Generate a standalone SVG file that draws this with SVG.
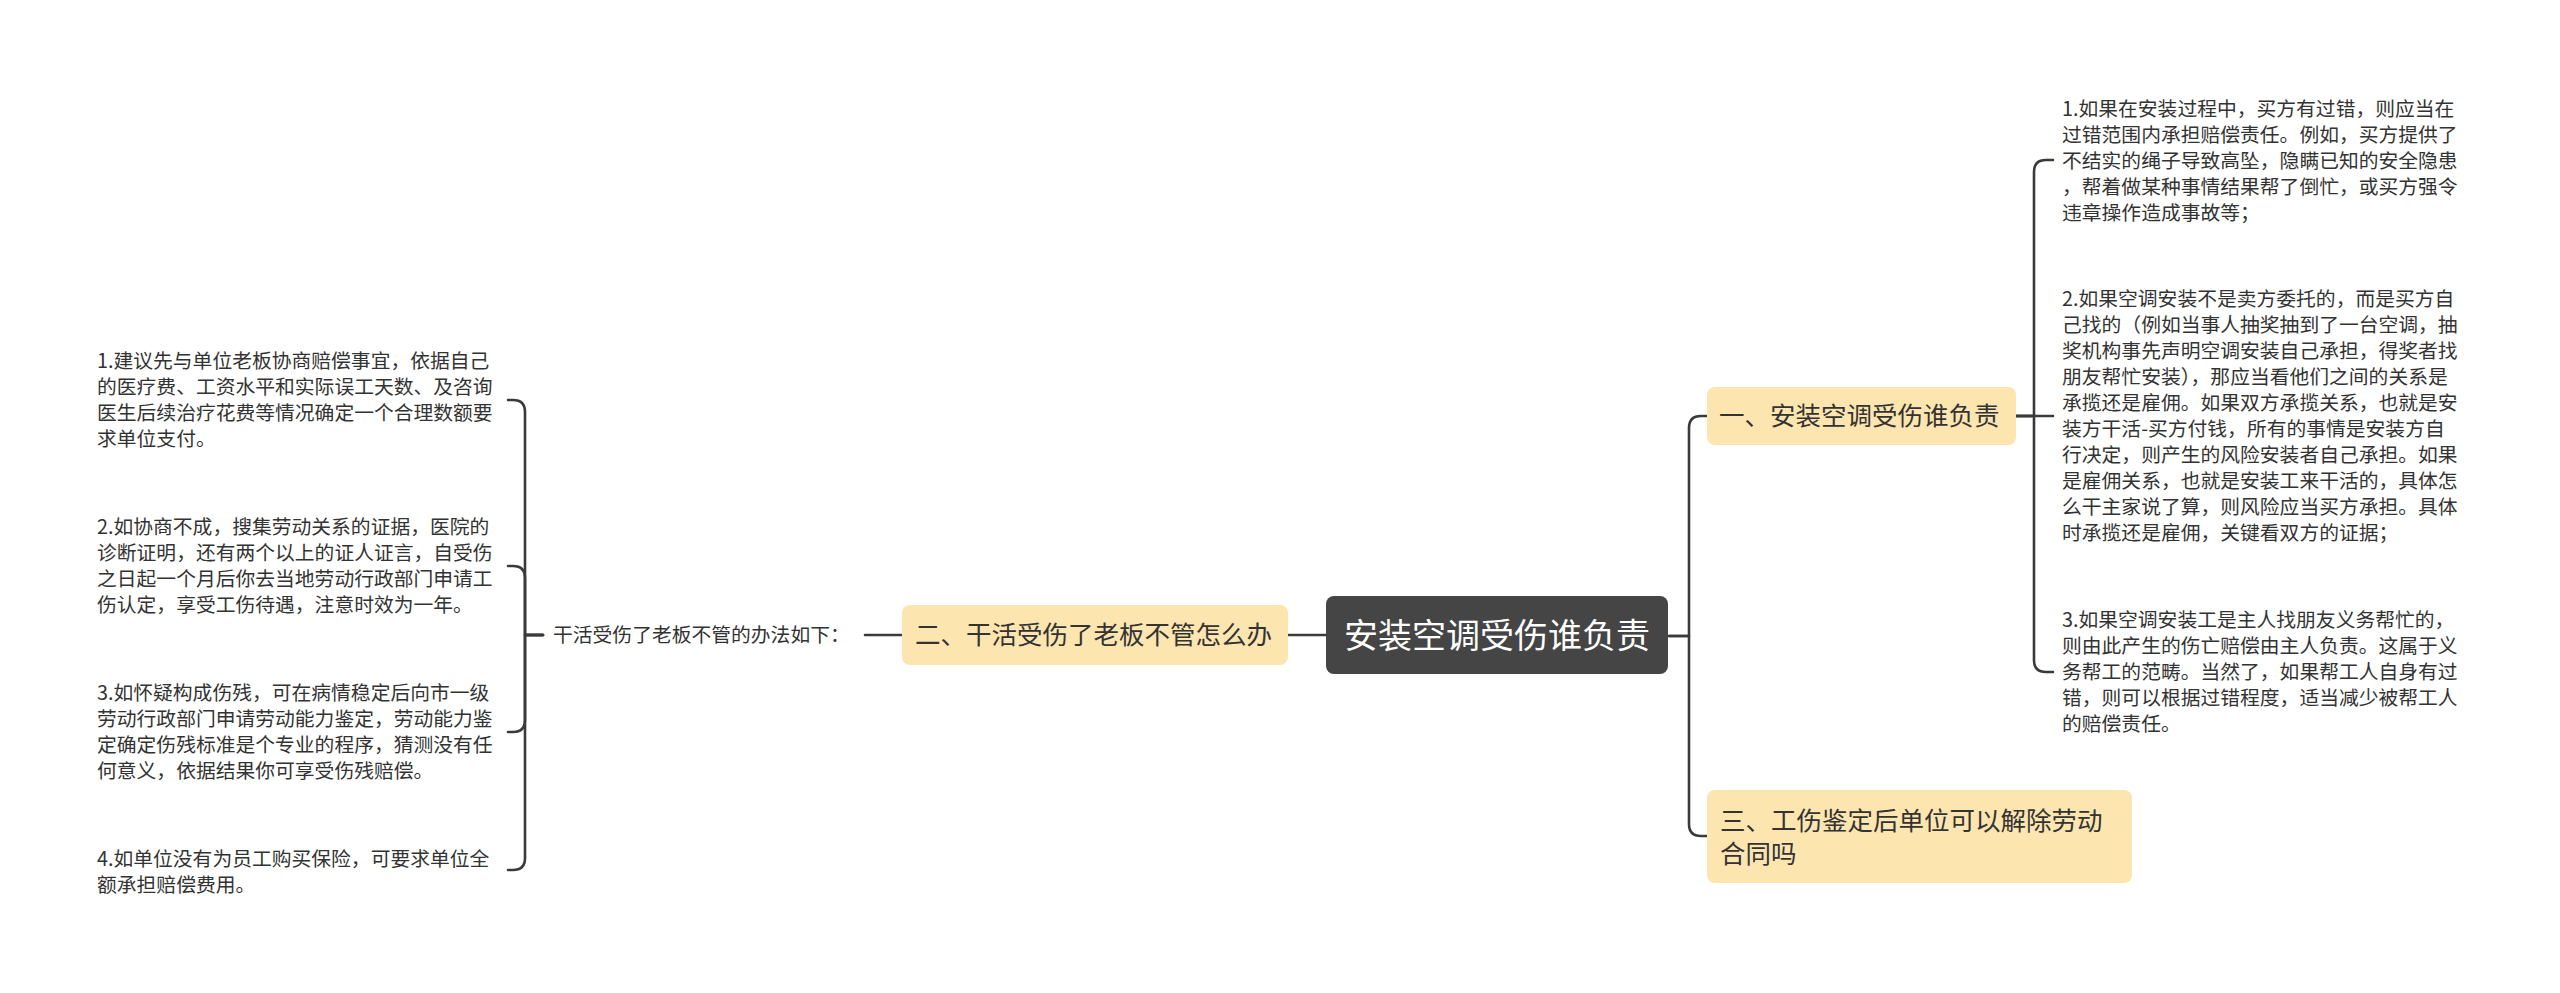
<svg xmlns="http://www.w3.org/2000/svg" width="2560" height="993" viewBox="0 0 2560 993">
<style>
.bg{fill:#ffffff}
.conn{fill:none;stroke:#3a3a3a;stroke-width:2.6;stroke-linecap:round;stroke-linejoin:round}
.root{fill:#454545}
.main{fill:#fde5b0}
.t{font-family:"Noto Sans CJK SC","Noto Sans",sans-serif;fill:#333333}
.rt{font-family:"Noto Sans CJK SC","Noto Sans",sans-serif;fill:#ffffff;font-size:34px}
.mt{font-size:25.5px}
.bt{font-size:19.8px}
</style>
<rect class="bg" x="0" y="0" width="2560" height="993"/>
<g id="connectors">
  <path class="conn" d="M1669,636 H1689 V428 Q1689,416 1701,416 H1707"/>
  <path class="conn" d="M1669,636 H1689 V824 Q1689,836 1701,836 H1707"/>
  <path class="conn" d="M1326,635 H1288"/>
  <path class="conn" d="M902,635 H865"/>
  <path class="conn" d="M2016,416 H2034 V172 Q2034,160 2046,160 H2053"/>
  <path class="conn" d="M2016,416 H2053"/>
  <path class="conn" d="M2016,416 H2034 V660 Q2034,672 2046,672 H2053"/>
  <path class="conn" d="M543,635 H525 V412 Q525,400 513,400 H508"/>
  <path class="conn" d="M543,635 H525 V578 Q525,566 513,566 H508"/>
  <path class="conn" d="M543,635 H525 V720 Q525,732 513,732 H508"/>
  <path class="conn" d="M543,635 H525 V858 Q525,870 513,870 H508"/>
</g>
<g id="root">
  <rect class="root" x="1326" y="596" width="342" height="78" rx="8"/>
  <text class="rt" x="1497" y="648" text-anchor="middle">安装空调受伤谁负责</text>
</g>
<g id="n1">
  <rect class="main" x="1707" y="387" width="309" height="58" rx="8"/>
  <text class="t mt" x="1719" y="425">一、安装空调受伤谁负责</text>
</g>
<g id="n2">
  <rect class="main" x="902" y="605" width="386" height="60" rx="8"/>
  <text class="t mt" x="915" y="644">二、干活受伤了老板不管怎么办</text>
</g>
<g id="n3">
  <rect class="main" x="1707" y="790" width="425" height="93" rx="8"/>
  <text class="t mt" x="1720" y="830">三、工伤鉴定后单位可以解除劳动</text>
  <text class="t mt" x="1720" y="863">合同吗</text>
</g>
<g id="n2-label">
  <text class="t bt" x="553" y="642">干活受伤了老板不管的办法如下：</text>
</g>
<g id="r1">
  <text class="t bt" x="2062" y="116">1.如果在安装过程中，买方有过错，则应当在</text>
  <text class="t bt" x="2062" y="142">过错范围内承担赔偿责任。例如，买方提供了</text>
  <text class="t bt" x="2062" y="168">不结实的绳子导致高坠，隐瞒已知的安全隐患</text>
  <text class="t bt" x="2062" y="194">，帮着做某种事情结果帮了倒忙，或买方强令</text>
  <text class="t bt" x="2062" y="220">违章操作造成事故等；</text>
</g>
<g id="r2">
  <text class="t bt" x="2062" y="306">2.如果空调安装不是卖方委托的，而是买方自</text>
  <text class="t bt" x="2062" y="332">己找的（例如当事人抽奖抽到了一台空调，抽</text>
  <text class="t bt" x="2062" y="358">奖机构事先声明空调安装自己承担，得奖者找</text>
  <text class="t bt" x="2062" y="384">朋友帮忙安装），那应当看他们之间的关系是</text>
  <text class="t bt" x="2062" y="410">承揽还是雇佣。如果双方承揽关系，也就是安</text>
  <text class="t bt" x="2062" y="436">装方干活-买方付钱，所有的事情是安装方自</text>
  <text class="t bt" x="2062" y="462">行决定，则产生的风险安装者自己承担。如果</text>
  <text class="t bt" x="2062" y="488">是雇佣关系，也就是安装工来干活的，具体怎</text>
  <text class="t bt" x="2062" y="514">么干主家说了算，则风险应当买方承担。具体</text>
  <text class="t bt" x="2062" y="540">时承揽还是雇佣，关键看双方的证据；</text>
</g>
<g id="r3">
  <text class="t bt" x="2062" y="627">3.如果空调安装工是主人找朋友义务帮忙的，</text>
  <text class="t bt" x="2062" y="653">则由此产生的伤亡赔偿由主人负责。这属于义</text>
  <text class="t bt" x="2062" y="679">务帮工的范畴。当然了，如果帮工人自身有过</text>
  <text class="t bt" x="2062" y="705">错，则可以根据过错程度，适当减少被帮工人</text>
  <text class="t bt" x="2062" y="731">的赔偿责任。</text>
</g>
<g id="l1">
  <text class="t bt" x="97" y="368">1.建议先与单位老板协商赔偿事宜，依据自己</text>
  <text class="t bt" x="97" y="394">的医疗费、工资水平和实际误工天数、及咨询</text>
  <text class="t bt" x="97" y="420">医生后续治疗花费等情况确定一个合理数额要</text>
  <text class="t bt" x="97" y="446">求单位支付。</text>
</g>
<g id="l2">
  <text class="t bt" x="97" y="534">2.如协商不成，搜集劳动关系的证据，医院的</text>
  <text class="t bt" x="97" y="560">诊断证明，还有两个以上的证人证言，自受伤</text>
  <text class="t bt" x="97" y="586">之日起一个月后你去当地劳动行政部门申请工</text>
  <text class="t bt" x="97" y="612">伤认定，享受工伤待遇，注意时效为一年。</text>
</g>
<g id="l3">
  <text class="t bt" x="97" y="700">3.如怀疑构成伤残，可在病情稳定后向市一级</text>
  <text class="t bt" x="97" y="726">劳动行政部门申请劳动能力鉴定，劳动能力鉴</text>
  <text class="t bt" x="97" y="752">定确定伤残标准是个专业的程序，猜测没有任</text>
  <text class="t bt" x="97" y="778">何意义，依据结果你可享受伤残赔偿。</text>
</g>
<g id="l4">
  <text class="t bt" x="97" y="866">4.如单位没有为员工购买保险，可要求单位全</text>
  <text class="t bt" x="97" y="892">额承担赔偿费用。</text>
</g>
</svg>
